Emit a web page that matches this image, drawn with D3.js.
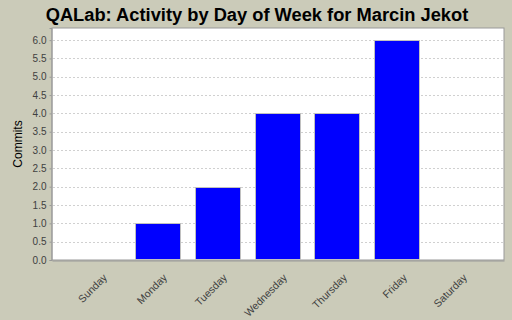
<!DOCTYPE html>
<html>
<head>
<meta charset="utf-8">
<script src="https://cdn.jsdelivr.net/npm/d3@7"></script>
<style>
  body { margin: 0; background: #cbcbb9; }
  text { font-family: "Liberation Sans", Arial, sans-serif; }
</style>
</head>
<body>
<script>
var days = ["Sunday", "Monday", "Tuesday", "Wednesday", "Thursday", "Friday", "Saturday"];
var commits = [0, 1, 2, 4, 4, 6, 0];
var yTicks = [0, 0.5, 1, 1.5, 2, 2.5, 3, 3.5, 4, 4.5, 5, 5.5, 6];

var width = 512, height = 320;
var plot = {left: 52, right: 504, top: 28, bottom: 260};

var svg = d3.select("body")
    .append("svg")
    .attr("width", width)
    .attr("height", height);

svg.append("rect")
    .attr("width", width)
    .attr("height", height)
    .attr("fill", "#cbcbb9");

var x = d3.scaleBand()
    .domain(days)
    .range([plot.left, plot.right])
    .paddingInner(0.25)
    .paddingOuter(0.392);

var y = d3.scaleLinear()
    .domain([0, 6.33])
    .range([plot.bottom, plot.top]);

// plot background
svg.append("rect")
    .attr("x", plot.left)
    .attr("y", plot.top)
    .attr("width", plot.right - plot.left)
    .attr("height", plot.bottom - plot.top)
    .attr("fill", "white")
    .attr("stroke", "#999999")
    .attr("stroke-width", 1);

// gridlines
svg.append("g")
    .selectAll("line")
    .data(yTicks.filter(function(d) { return d > 0; }))
    .enter().append("line")
    .attr("x1", plot.left + 1)
    .attr("x2", plot.right - 1)
    .attr("y1", function(d) { return Math.round(y(d)) + 0.5; })
    .attr("y2", function(d) { return Math.round(y(d)) + 0.5; })
    .attr("stroke", "#d0d0d0")
    .attr("stroke-dasharray", "2,2");

// bars
svg.append("g")
    .selectAll("rect")
    .data(days)
    .enter().append("rect")
    .filter(function(d, i) { return commits[i] > 0; })
    .attr("x", function(d) { return Math.round(x(d)) - 0.5; })
    .attr("y", function(d) { return Math.round(y(commits[days.indexOf(d)])) + 0.5; })
    .attr("width", Math.round(x.bandwidth()))
    .attr("height", function(d) { return Math.round(plot.bottom - y(commits[days.indexOf(d)])) - 1; })
    .attr("fill", "#0000ff")
    .attr("stroke", "#c0c0c0")
    .attr("stroke-width", 1);

// y axis
var yAxis = svg.append("g")
    .attr("transform", "translate(" + (plot.left - 0.5) + ",0)")
    .call(d3.axisLeft(y).tickValues(yTicks).tickFormat(d3.format(".1f")).tickSize(2).tickPadding(3));
yAxis.select(".domain").attr("stroke", "#999999");
yAxis.selectAll(".tick line").attr("stroke", "#999999");
yAxis.selectAll("text").attr("fill", "#404040").style("font-size", "10px");

// x axis
var xAxis = svg.append("g")
    .attr("transform", "translate(0," + (plot.bottom + 0.5) + ")")
    .call(d3.axisBottom(x).tickSize(0).tickSizeOuter(0));
xAxis.select(".domain").attr("stroke", "#999999");
xAxis.selectAll("text")
    .attr("fill", "#404040")
    .style("font-size", "10.5px")
    .attr("text-anchor", "end")
    .attr("dy", "0.35em")
    .attr("transform", "translate(5,13) rotate(-45)");

// y label
svg.append("text")
    .attr("transform", "translate(22," + ((plot.top + plot.bottom) / 2) + ") rotate(-90)")
    .attr("text-anchor", "middle")
    .style("font-size", "12px")
    .attr("fill", "#000")
    .text("Commits");

// title
svg.append("text")
    .attr("x", 257)
    .attr("y", 21)
    .attr("text-anchor", "middle")
    .style("font-size", "18.3px")
    .style("font-weight", "bold")
    .attr("fill", "#000")
    .text("QALab: Activity by Day of Week for Marcin Jekot");
</script>
</body>
</html>
